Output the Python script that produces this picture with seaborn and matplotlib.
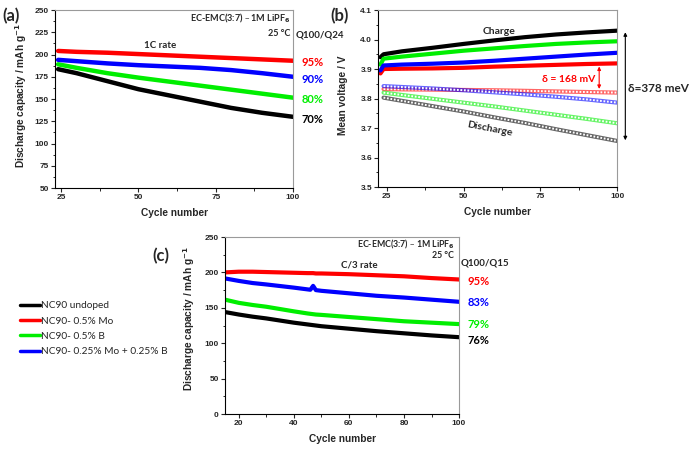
import numpy as np
import pandas as pd
import seaborn as sns
import matplotlib.pyplot as plt
from matplotlib.ticker import MultipleLocator

# ---- data ----
labels = ["NC90 undoped", "NC90- 0.5% Mo", "NC90- 0.5% B", "NC90- 0.25% Mo + 0.25% B"]
colors = ["#000000", "#ff0000", "#00ee00", "#0000ff"]

# (a) 1C rate discharge capacity
cycles_a = [24, 30, 40, 50, 60, 70, 80, 90, 100]
black_a = [183.5, 179, 170, 161, 154, 147, 140, 134.5, 130]
red_a = [204, 203, 202, 200.5, 199, 197.5, 196, 194.5, 193]
green_a = [189, 185, 179, 174, 169.5, 165, 160.5, 156, 151.5]
blue_a = [194, 192.5, 190, 188, 186.5, 185, 182.5, 179, 175]
retention_a = ["70%", "95%", "80%", "90%"]
retention_a_y = [126.5, 191.5, 149, 171.5]

# (b) mean voltage, charge (filled) and discharge (hollow)
cycles_bc = [23, 24, 30, 40, 50, 60, 70, 80, 90, 100]
black_chg = [3.940, 3.950, 3.960, 3.972, 3.985, 3.997, 4.008, 4.017, 4.024, 4.030]
red_chg = [3.885, 3.900, 3.901, 3.902, 3.904, 3.908, 3.911, 3.914, 3.917, 3.919]
green_chg = [3.915, 3.935, 3.942, 3.952, 3.962, 3.970, 3.978, 3.985, 3.990, 3.994]
blue_chg = [3.895, 3.912, 3.915, 3.918, 3.922, 3.928, 3.935, 3.942, 3.949, 3.955]
cycles_bd = [24, 30, 40, 50, 60, 70, 80, 90, 100]
black_dis = [3.803, 3.792, 3.774, 3.756, 3.736, 3.717, 3.696, 3.676, 3.656]
red_dis = [3.832, 3.831, 3.830, 3.829, 3.828, 3.826, 3.824, 3.822, 3.820]
green_dis = [3.820, 3.812, 3.799, 3.786, 3.773, 3.759, 3.745, 3.731, 3.716]
blue_dis = [3.842, 3.839, 3.834, 3.828, 3.821, 3.814, 3.806, 3.797, 3.786]

# (c) C/3 rate discharge capacity
cycles_c = [15, 20, 25, 30, 40, 45, 46, 47, 48, 50, 60, 70, 80, 90, 100]
black_c = [144, 140.5, 137.5, 135, 129, 126.5, 126, 125.5, 125, 124, 120.5, 117, 114, 111, 108.5]
red_c = [200, 201, 201, 200.5, 199.5, 199, 199, 199, 198.5, 198.5, 197.5, 196, 194.5, 192, 190]
green_c = [161.5, 157, 154, 151.5, 145, 142, 141.5, 141, 140.5, 140, 137, 134, 131, 129, 127]
blue_c = [191.5, 188, 185, 183, 178.5, 176, 175.5, 181, 175, 174, 170.5, 167, 164.5, 161.5, 158.5]
retention_c = ["76%", "95%", "79%", "83%"]
retention_c_y = [103.5, 186.5, 127, 158]

sns.set_style("ticks")
plt.rcParams["font.family"] = ["Liberation Sans", "DejaVu Sans"]
plt.rcParams["font.weight"] = "bold"
plt.rcParams["axes.labelweight"] = "bold"
ann = ["Lato", "DejaVu Sans"]

fig = plt.figure(figsize=(6.93, 4.55), dpi=100)
ax_a = fig.add_axes([0.0794, 0.5868, 0.3434, 0.3912])
ax_b = fig.add_axes([0.5459, 0.589, 0.3449, 0.389])
ax_c = fig.add_axes([0.3247, 0.0901, 0.3377, 0.389])


def style_axes(ax):
    for s in ["top", "right"]:
        ax.spines[s].set_color("#9a9a9a")
    for s in ["left", "bottom"]:
        ax.spines[s].set_color("black")
    ax.tick_params(which="major", direction="out", length=3, width=0.8, labelsize=6, pad=1.5)
    ax.tick_params(which="minor", direction="out", length=1.8, width=0.7)
    ax.xaxis.label.set_size(7.3)
    ax.yaxis.label.set_size(7.3)


# ---- (a) ----
for ys, c in zip([black_a, red_a, green_a, blue_a], colors):
    sns.lineplot(x=cycles_a, y=ys, color=c, lw=3.2, ax=ax_a)
ax_a.set_xlim(23, 100)
ax_a.set_ylim(50, 250)
ax_a.xaxis.set_major_locator(MultipleLocator(25))
ax_a.xaxis.set_minor_locator(MultipleLocator(12.5))
ax_a.yaxis.set_major_locator(MultipleLocator(25))
ax_a.yaxis.set_minor_locator(MultipleLocator(12.5))
ax_a.set_xlabel("Cycle number", labelpad=5)
ax_a.set_ylabel("Discharge capacity / mAh g$^{\\mathbf{-1}}$")
ax_a.yaxis.set_label_coords(-0.11, 0.52)
style_axes(ax_a)
ax_a.text(0.99, 0.955, "EC-EMC(3:7) – 1M LiPF$_6$", transform=ax_a.transAxes, ha="right",
          va="center", fontsize=6.5, family=ann, fontweight="bold")
ax_a.text(0.99, 0.87, "25 °C", transform=ax_a.transAxes, ha="right", va="center",
          fontsize=6.5, family=ann, fontweight="bold")
ax_a.text(1.01, 0.86, "Q100/Q24", transform=ax_a.transAxes, ha="left", va="center",
          fontsize=7, family=ann, fontweight="bold")
ax_a.text(0.44, 0.8, "1C rate", transform=ax_a.transAxes, ha="center", va="center",
          fontsize=7, family=ann, fontweight="bold")
for t, yv, c in zip(retention_a, retention_a_y, colors):
    ax_a.text(1.035, yv, t, transform=ax_a.get_yaxis_transform(), ha="left", va="center",
              fontsize=8, family=ann, fontweight="bold", color=c)

# ---- (b) ----
for ys, c in zip([black_chg, red_chg, green_chg, blue_chg], colors):
    sns.lineplot(x=cycles_bc, y=ys, color=c, lw=3.0, ax=ax_b)
for ys, c in zip([black_dis, red_dis, green_dis, blue_dis], colors):
    sns.lineplot(x=cycles_bd, y=ys, color=c, lw=3.0, alpha=0.6, ax=ax_b)
    sns.lineplot(x=cycles_bd, y=ys, color="white", lw=1.4, linestyle=(0, (0.9, 0.9)), ax=ax_b)
ax_b.set_xlim(22.3, 100)
ax_b.set_ylim(3.5, 4.1)
ax_b.xaxis.set_major_locator(MultipleLocator(25))
ax_b.xaxis.set_minor_locator(MultipleLocator(12.5))
ax_b.yaxis.set_major_locator(MultipleLocator(0.1))
ax_b.yaxis.set_minor_locator(MultipleLocator(0.05))
ax_b.set_xlabel("Cycle number", labelpad=5)
ax_b.set_ylabel("Mean voltage / V")
ax_b.yaxis.set_label_coords(-0.125, 0.52)
style_axes(ax_b)
ax_b.text(61.5, 4.027, "Charge", ha="center", va="center", fontsize=7.5, family=ann,
          fontweight="bold")
ax_b.text(58.5, 3.695, "Discharge", ha="center", va="center", fontsize=7.5, family=ann,
          fontweight="bold", rotation=-11)
ax_b.annotate("", xy=(94.1, 3.918), xytext=(94.1, 3.823),
              arrowprops=dict(arrowstyle="<|-|>", color="red", lw=0.8, mutation_scale=5))
ax_b.text(92.8, 3.863, "δ = 168 mV", ha="right", va="center", fontsize=7.5, family=ann,
          fontweight="bold", color="red")
ax_b.annotate("", xy=(102.6, 4.034), xytext=(102.6, 3.649), annotation_clip=False,
              arrowprops=dict(arrowstyle="<|-|>", color="black", lw=0.8, mutation_scale=5))
ax_b.text(1.045, 3.835, "δ=378 meV", transform=ax_b.get_yaxis_transform(), ha="left",
          va="center", fontsize=8.5, family=ann, fontweight="bold")

# ---- (c) ----
for ys, c, lab in zip([black_c, red_c, green_c, blue_c], colors, labels):
    sns.lineplot(x=cycles_c, y=ys, color=c, lw=3.0, label=lab, ax=ax_c)
ax_c.set_xlim(15, 100)
ax_c.set_ylim(0, 250)
ax_c.xaxis.set_major_locator(MultipleLocator(20))
ax_c.xaxis.set_minor_locator(MultipleLocator(10))
ax_c.yaxis.set_major_locator(MultipleLocator(50))
ax_c.yaxis.set_minor_locator(MultipleLocator(25))
ax_c.set_xlabel("Cycle number", labelpad=5)
ax_c.set_ylabel("Discharge capacity / mAh g$^{\\mathbf{-1}}$")
ax_c.yaxis.set_label_coords(-0.12, 0.54)
style_axes(ax_c)
ax_c.text(0.98, 0.955, "EC-EMC(3:7) – 1M LiPF$_6$", transform=ax_c.transAxes, ha="right",
          va="center", fontsize=6.3, family=ann, fontweight="bold")
ax_c.text(0.98, 0.895, "25 °C", transform=ax_c.transAxes, ha="right", va="center",
          fontsize=6.3, family=ann, fontweight="bold")
ax_c.text(1.005, 0.855, "Q100/Q15", transform=ax_c.transAxes, ha="left", va="center",
          fontsize=7, family=ann, fontweight="bold")
ax_c.text(0.575, 0.84, "C/3 rate", transform=ax_c.transAxes, ha="center", va="center",
          fontsize=7, family=ann, fontweight="bold")
for t, yv, c in zip(retention_c, retention_c_y, colors):
    ax_c.text(1.035, yv, t, transform=ax_c.get_yaxis_transform(), ha="left", va="center",
              fontsize=8, family=ann, fontweight="bold", color=c)

handles, labs = ax_c.get_legend_handles_labels()
ax_c.get_legend().remove()
leg = fig.legend(handles, labs, loc="upper left", bbox_to_anchor=(11 / 693, 1 - 292 / 455),
                 frameon=False, handlelength=2.0, handletextpad=0.1, labelspacing=0.62,
                 prop={"family": ann, "size": 7.3, "weight": "normal"})
for h in leg.get_lines():
    h.set_linewidth(2.5)

# panel letters
fig.text(2 / 693, 1 - 16 / 455, "(a)", fontsize=12, fontweight="bold", family=ann, va="center")
fig.text(330 / 693, 1 - 16 / 455, "(b)", fontsize=12, fontweight="bold", family=ann, va="center")
fig.text(152 / 693, 1 - 256 / 455, "(c)", fontsize=12, fontweight="bold", family=ann, va="center")

fig.savefig("out.png", dpi=100)
